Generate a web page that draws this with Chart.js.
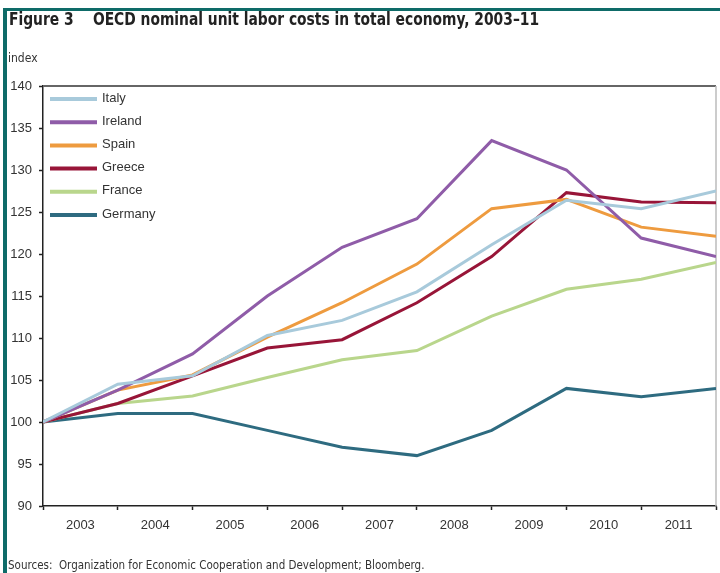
<!DOCTYPE html>
<html>
<head>
<meta charset="utf-8">
<title>OECD nominal unit labor costs</title>
<script src="https://cdn.jsdelivr.net/npm/chart.js@4"></script>
<style>
  body { margin: 0; background: #fff; width: 720px; height: 573px; overflow: hidden; position: relative; }
  #chart { position: absolute; left: 0; top: 0; }
  .bar-top { position: absolute; left: 3px; top: 8px; width: 717px; height: 3px; background: #0e6b68; }
  .bar-left { position: absolute; left: 3px; top: 8px; width: 4px; height: 565px; background: #0e6b68; }
  .txt { position: absolute; white-space: nowrap; color: #222; font-family: "DejaVu Sans Condensed", "Liberation Sans", sans-serif; }
  #title { left: 9px; top: 11px; font-size: 17px; line-height: 17px; font-weight: bold; transform: scaleX(0.905); transform-origin: 0 0; }
  #unit { left: 8px; top: 52px; font-size: 12px; line-height: 12px; color: #333; }
  #source { left: 8px; top: 559px; font-size: 11.5px; line-height: 12px; color: #333; }
</style>
</head>
<body>
<div class="bar-top"></div>
<div class="bar-left"></div>
<canvas id="chart" width="724" height="573"></canvas>
<div class="txt" id="title">Figure 3&nbsp;&nbsp;&nbsp;&nbsp;OECD nominal unit labor costs in total economy, 2003–11</div>
<div class="txt" id="unit">index</div>
<div class="txt" id="source">Sources:&nbsp; Organization for Economic Cooperation and Development; Bloomberg.</div>
<script>
// year labels sit between the tick marks, points sit on the tick marks
const years = ["2003", "2004", "2005", "2006", "2007", "2008", "2009", "2010", "2011"];
const yTicks = [90, 95, 100, 105, 110, 115, 120, 125, 130, 135, 140];

// index values
const italy   = [100, 104.5, 105.5, 110.3, 112.1, 115.5, 121.1, 126.4, 125.4, 127.5];
const ireland = [100, 103.8, 108.1, 115.0, 120.8, 124.2, 133.5, 130.0, 121.9, 119.7];
const spain   = [100, 103.8, 105.6, 110.1, 114.2, 118.8, 125.4, 126.5, 123.2, 122.1];
const greece  = [100, 102.2, 105.5, 108.8, 109.8, 114.2, 119.7, 127.3, 126.2, 126.1];
const france  = [100, 102.2, 103.1, 105.3, 107.4, 108.5, 112.6, 115.8, 117.0, 119.0];
const germany = [100, 101, 101, 99, 97, 96, 99, 104, 103, 104];

const series = [
  { label: "Italy",   values: italy,   color: "#a8cadb" },
  { label: "Ireland", values: ireland, color: "#8f5ca8" },
  { label: "Spain",   values: spain,   color: "#ee9b3f" },
  { label: "Greece",  values: greece,  color: "#981538" },
  { label: "France",  values: france,  color: "#b9d68c" },
  { label: "Germany", values: germany, color: "#2e6b80" }
];

const FONT = '"Liberation Sans", Arial, sans-serif';

// legend drawn inside the plot, top-left, one row per series
const insideLegend = {
  id: "insideLegend",
  afterDatasetsDraw(chart) {
    const ctx = chart.ctx;
    const a = chart.chartArea;
    ctx.save();
    ctx.font = "13px " + FONT;
    ctx.textBaseline = "middle";
    chart.data.datasets.forEach((ds, i) => {
      const y = a.top + 13 + i * 23.2;
      ctx.strokeStyle = ds.borderColor;
      ctx.lineWidth = 4;
      ctx.beginPath();
      ctx.moveTo(a.left + 7, y);
      ctx.lineTo(a.left + 54, y);
      ctx.stroke();
      ctx.fillStyle = "#333";
      ctx.fillText(ds.label, a.left + 59, y - 1);
    });
    ctx.restore();
  }
};

// thin frame on top and right of the plot
const frame = {
  id: "frame",
  beforeDatasetsDraw(chart) {
    const ctx = chart.ctx;
    const a = chart.chartArea;
    ctx.save();
    ctx.lineWidth = 2;
    ctx.strokeStyle = "#666";
    ctx.beginPath();
    ctx.moveTo(a.left, a.top);
    ctx.lineTo(a.right, a.top);
    ctx.stroke();
    ctx.lineWidth = 1.5;
    ctx.strokeStyle = "#bbb";
    ctx.beginPath();
    ctx.moveTo(a.right, a.top);
    ctx.lineTo(a.right, a.bottom);
    ctx.stroke();
    ctx.restore();
  }
};

new Chart(document.getElementById("chart"), {
  type: "line",
  data: {
    datasets: series.map(s => ({
      label: s.label,
      data: s.values.map((v, i) => ({ x: i, y: v })),
      borderColor: s.color,
      backgroundColor: s.color,
      borderWidth: 3,
      pointRadius: 0,
      tension: 0,
      fill: false
    }))
  },
  options: {
    responsive: false,
    animation: false,
    layout: { padding: { top: 86, right: 0, left: 0, bottom: 0 } },
    plugins: {
      legend: { display: false },
      tooltip: { enabled: false }
    },
    scales: {
      x: {
        type: "linear",
        min: 0,
        max: years.length,
        afterBuildTicks: scale => {
          const t = [];
          for (let i = 0; i <= years.length * 2; i++) t.push({ value: i / 2 });
          scale.ticks = t;
        },
        afterFit: scale => { scale.height = 67; },
        ticks: {
          autoSkip: false,
          maxRotation: 0,
          padding: 8,
          color: "#333",
          font: { family: FONT, size: 13 },
          callback: v => Number.isInteger(v) ? "" : years[Math.floor(v)]
        },
        grid: {
          drawOnChartArea: false,
          drawTicks: true,
          tickLength: 4,
          tickWidth: 1.5,
          tickColor: c => Number.isInteger(c.tick.value) ? "#222" : "rgba(0,0,0,0)"
        },
        border: { display: true, color: "#222", width: 1.5 }
      },
      y: {
        min: yTicks[0],
        max: yTicks[yTicks.length - 1],
        afterBuildTicks: scale => { scale.ticks = yTicks.map(v => ({ value: v })); },
        afterFit: scale => { scale.width = 43; },
        ticks: {
          padding: 7,
          color: "#333",
          font: { family: FONT, size: 13 }
        },
        grid: {
          drawOnChartArea: false,
          drawTicks: true,
          tickLength: 4,
          tickWidth: 1.5,
          tickColor: "#222"
        },
        border: { display: true, color: "#222", width: 1.5 }
      }
    }
  },
  plugins: [frame, insideLegend]
});
</script>
</body>
</html>
